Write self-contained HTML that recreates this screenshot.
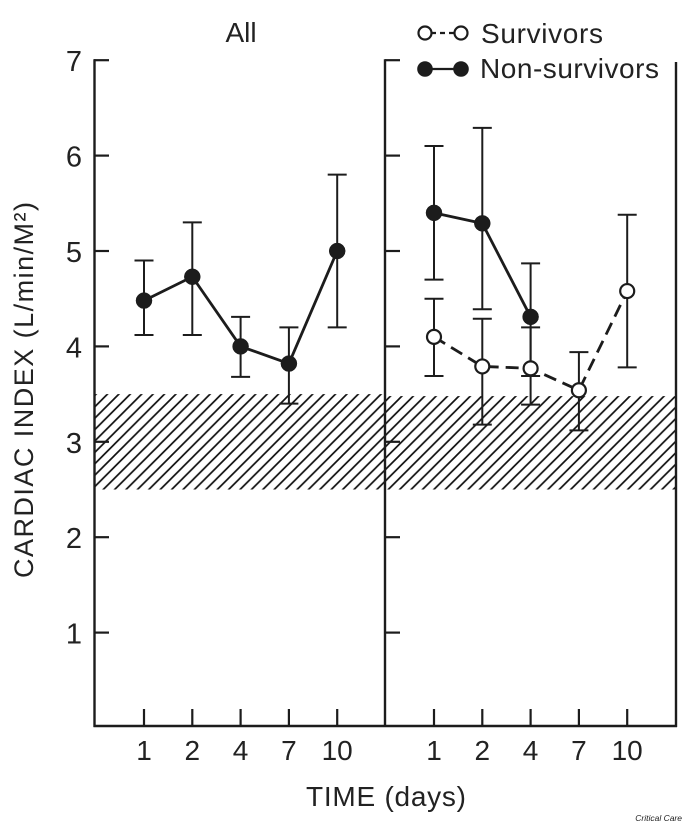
<!DOCTYPE html>
<html>
<head>
<meta charset="utf-8">
<style>
html,body{margin:0;padding:0;background:#fff;width:685px;height:826px;overflow:hidden}
svg{display:block}
text{font-family:"Liberation Sans",sans-serif;fill:#222}
</style>
</head>
<body>
<svg id="chart" width="685" height="826" viewBox="0 0 685 826" xmlns="http://www.w3.org/2000/svg">
<defs>
<pattern id="hatch" patternUnits="userSpaceOnUse" width="11.4" height="11.4">
<path d="M-2 13.4 L13.4 -2 M-2 2 L2 -2 M9.4 13.4 L13.4 9.4" stroke="#111" stroke-width="1.7" fill="none"/>
</pattern>
</defs>
</svg>
<script>
const yTicks = [1, 2, 3, 4, 5, 6, 7];
const days = ['1', '2', '4', '7', '10'];
const normalRange = [2.5, 3.5];

const allMean = [4.48, 4.73, 4.0, 3.82, 5.0];
const allUpper = [4.9, 5.3, 4.31, 4.2, 5.8];
const allLower = [4.12, 4.12, 3.68, 3.4, 4.2];

const nonSurvivorMean = [5.4, 5.29, 4.31];
const nonSurvivorUpper = [6.1, 6.29, 4.87];
const nonSurvivorLower = [4.7, 4.39, 3.69];

const survivorMean = [4.1, 3.79, 3.77, 3.54, 4.58];
const survivorUpper = [4.5, 4.29, 4.2, 3.94, 5.38];
const survivorLower = [3.69, 3.18, 3.39, 3.12, 3.78];

const svg = document.getElementById('chart');
const NS = 'http://www.w3.org/2000/svg';
const INK = '#1c1c1c';

function y(v) { return 728 - v * 95.4; }
function xLeft(i) { return 144 + i * 48.3; }
function xRight(i) { return 434 + i * 48.3; }

function make(tag, attrs, text) {
  const el = document.createElementNS(NS, tag);
  for (const k in attrs) el.setAttribute(k, attrs[k]);
  if (text !== undefined) el.textContent = text;
  svg.appendChild(el);
  return el;
}
function line(x1, y1, x2, y2, w, name) {
  const el = make('line', { x1, y1, x2, y2, stroke: INK, 'stroke-width': w });
  
  
  return el;
}
function label(x, yy, size, anchor, content, name) {
  const el = make('text', { x, y: yy, 'font-size': size, 'text-anchor': anchor }, content);
  
  
  return el;
}

// Normal-range hatched bands
const bandLeft = make('rect', { x: 95, y: y(normalRange[1]), width: 290, height: y(normalRange[0]) - y(normalRange[1]), fill: 'url(#hatch)' });


const bandRight = make('rect', { x: 386, y: y(normalRange[1]) + 2, width: 290, height: y(normalRange[0]) - y(normalRange[1]) - 2, fill: 'url(#hatch)' });



// Frame
line(94.5, y(7) - 1, 94.5, 727, 2.4, 'y-axis-left');
line(385, y(7) - 1, 385, 727, 2.4, 'panel-divider');
line(676, 62, 676, 727, 2.4, 'panel-right-edge');
line(93.5, 726, 677, 726, 2.6, 'x-axis');

// Y ticks and labels
yTicks.forEach(function (t) {
  line(94, y(t), 109, y(t), 2.2, 'y-tick-left-' + t);
  line(385, y(t), 400, y(t), 2.2, 'y-tick-right-' + t);
  label(74, y(t) + 11, 29, 'middle', String(t), 'y-tick-label-' + t);
});

// X ticks and labels
days.forEach(function (d, i) {
  line(xLeft(i), 709, xLeft(i), 726, 2.2, 'x-tick-all-' + d);
  line(xRight(i), 709, xRight(i), 726, 2.2, 'x-tick-groups-' + d);
  label(xLeft(i), 760, 28, 'middle', d, 'x-tick-label-all-' + d);
  label(xRight(i), 760, 28, 'middle', d, 'x-tick-label-groups-' + d);
});

function errorBars(xf, upper, lower, name) {
  upper.forEach(function (u, i) {
    line(xf(i), y(u), xf(i), y(lower[i]), 2, name + '-error-bar-' + days[i]);
    line(xf(i) - 9.5, y(u), xf(i) + 9.5, y(u), 2, name + '-error-cap-upper-' + days[i]);
    line(xf(i) - 9.5, y(lower[i]), xf(i) + 9.5, y(lower[i]), 2, name + '-error-cap-lower-' + days[i]);
  });
}
function series(xf, values, dash, filled, name) {
  const pts = values.map(function (v, i) { return xf(i) + ',' + y(v); }).join(' ');
  const pl = make('polyline', { points: pts, fill: 'none', stroke: INK, 'stroke-width': 2.8 });
  if (dash) pl.setAttribute('stroke-dasharray', dash);
  
  
  values.forEach(function (v, i) {
    const c = make('circle', {
      cx: xf(i), cy: y(v), r: filled ? 8 : 7,
      fill: filled ? INK : '#fff', stroke: INK, 'stroke-width': filled ? 0.5 : 2.2
    });
    
    
  });
}

errorBars(xLeft, allUpper, allLower, 'all');
series(xLeft, allMean, null, true, 'all');

errorBars(xRight, survivorUpper, survivorLower, 'survivors');
errorBars(xRight, nonSurvivorUpper, nonSurvivorLower, 'non-survivors');
series(xRight, survivorMean, '13 7', false, 'survivors');
series(xRight, nonSurvivorMean, null, true, 'non-survivors');

// Titles and legend
label(241, 42, 28, 'middle', 'All', 'panel-title-all');

const legendLineS = make('line', { x1: 431, y1: 33, x2: 456, y2: 33, stroke: INK, 'stroke-width': 2.2, 'stroke-dasharray': '5 4' });


[425, 461].forEach(function (cx) {
  const c = make('circle', { cx, cy: 33, r: 6.5, fill: '#fff', stroke: INK, 'stroke-width': 2.2 });
  
  
});
label(481, 43, 28, 'start', 'Survivors', 'legend-survivors-label').setAttribute('textLength', '122');

line(425, 69, 461, 69, 2.2, 'legend-non-survivors-line');
[425, 461].forEach(function (cx) {
  const c = make('circle', { cx, cy: 69, r: 7.8, fill: INK });
  
  
});
label(480, 78, 28, 'start', 'Non-survivors', 'legend-non-survivors-label').setAttribute('textLength', '179');

// Axis titles
const yTitle = label(0, 0, 27, 'middle', 'CARDIAC INDEX (L/min/M²)', 'y-axis-title');
yTitle.setAttribute('transform', 'translate(33 390) rotate(-90)');
yTitle.setAttribute('textLength', '376');
label(386, 806, 28, 'middle', 'TIME (days)', 'x-axis-title').setAttribute('textLength', '160');

// Credit
const credit = label(682, 821, 8.5, 'end', 'Critical Care', 'source-credit');
credit.setAttribute('font-style', 'italic');
</script>
</body>
</html>
